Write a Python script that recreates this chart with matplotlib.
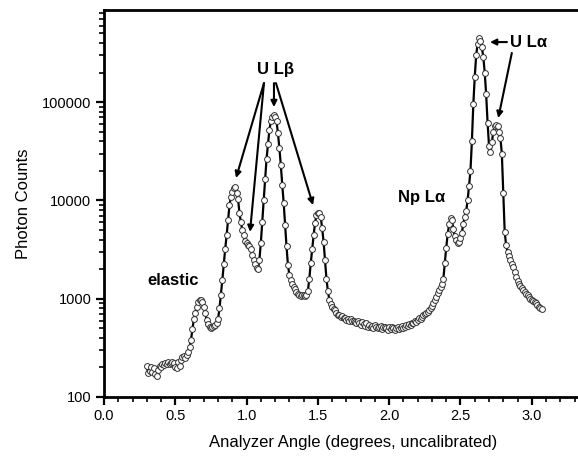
import matplotlib
matplotlib.use("Agg")
import matplotlib.pyplot as plt
from matplotlib.ticker import LogLocator, FixedLocator, MultipleLocator, NullFormatter

plt.rcParams['font.family'] = ['Liberation Sans', 'DejaVu Sans']

# Analyzer angle (degrees) and photon counts
angle = [
    0.30, 0.31, 0.32, 0.33, 0.34, 0.35, 0.36, 0.37, 0.38, 0.39,
    0.40, 0.41, 0.42, 0.43, 0.44, 0.45, 0.46, 0.47, 0.48, 0.49,
    0.50, 0.51, 0.52, 0.53, 0.54, 0.55, 0.56, 0.57, 0.58, 0.59,
    0.60, 0.61, 0.62, 0.63, 0.64, 0.65, 0.66, 0.67, 0.68, 0.69,
    0.70, 0.71, 0.72, 0.73, 0.74, 0.75, 0.76, 0.77, 0.78, 0.79,
    0.80, 0.81, 0.82, 0.83, 0.84, 0.85, 0.86, 0.87, 0.88, 0.89,
    0.90, 0.91, 0.92, 0.93, 0.94, 0.95, 0.96, 0.97, 0.98, 0.99,
    1.00, 1.01, 1.02, 1.03, 1.04, 1.05, 1.06, 1.07, 1.08, 1.09,
    1.10, 1.11, 1.12, 1.13, 1.14, 1.15, 1.16, 1.17, 1.18, 1.19,
    1.20, 1.21, 1.22, 1.23, 1.24, 1.25, 1.26, 1.27, 1.28, 1.29,
    1.30, 1.31, 1.32, 1.33, 1.34, 1.35, 1.36, 1.37, 1.38, 1.39,
    1.40, 1.41, 1.42, 1.43, 1.44, 1.45, 1.46, 1.47, 1.48, 1.49,
    1.50, 1.51, 1.52, 1.53, 1.54, 1.55, 1.56, 1.57, 1.58, 1.59,
    1.60, 1.61, 1.62, 1.63, 1.64, 1.65, 1.66, 1.67, 1.68, 1.69,
    1.70, 1.71, 1.72, 1.73, 1.74, 1.75, 1.76, 1.77, 1.78, 1.79,
    1.80, 1.81, 1.82, 1.83, 1.84, 1.85, 1.86, 1.87, 1.88, 1.89,
    1.90, 1.91, 1.92, 1.93, 1.94, 1.95, 1.96, 1.97, 1.98, 1.99,
    2.00, 2.01, 2.02, 2.03, 2.04, 2.05, 2.06, 2.07, 2.08, 2.09,
    2.10, 2.11, 2.12, 2.13, 2.14, 2.15, 2.16, 2.17, 2.18, 2.19,
    2.20, 2.21, 2.22, 2.23, 2.24, 2.25, 2.26, 2.27, 2.28, 2.29,
    2.30, 2.31, 2.32, 2.33, 2.34, 2.35, 2.36, 2.37, 2.38, 2.39,
    2.40, 2.41, 2.42, 2.43, 2.44, 2.45, 2.46, 2.47, 2.48, 2.49,
    2.50, 2.51, 2.52, 2.53, 2.54, 2.55, 2.56, 2.57, 2.58, 2.59,
    2.60, 2.61, 2.62, 2.63, 2.64, 2.65, 2.66, 2.67, 2.68, 2.69,
    2.70, 2.71, 2.72, 2.73, 2.74, 2.75, 2.76, 2.77, 2.78, 2.79,
    2.80, 2.81, 2.82, 2.83, 2.84, 2.85, 2.86, 2.87, 2.88, 2.89,
    2.90, 2.91, 2.92, 2.93, 2.94, 2.95, 2.96, 2.97, 2.98, 2.99,
    3.00, 3.01, 3.02, 3.03, 3.04, 3.05, 3.06, 3.07,
]
counts = [
    205, 175, 185, 200, 180, 195, 170, 165, 190, 205,
    200, 215, 210, 220, 218, 225, 215, 222, 228, 220,
    200, 195, 225, 205, 240, 255, 260, 250, 270, 290,
    320, 380, 490, 620, 720, 820, 920, 975, 960, 930,
    830, 720, 610, 550, 510, 500, 520, 525, 540, 570,
    620, 800, 1100, 1550, 2250, 3200, 4400, 6300, 8900, 10900,
    12200, 13300, 13600, 12000, 10300, 7500, 6000, 5000, 4400, 3900,
    3700, 3550, 3400, 3200, 2800, 2450, 2250, 2050, 2000, 2500,
    3700, 6000, 10000, 16500, 26500, 37500, 52000, 64000, 71000, 74000,
    71000, 64000, 48000, 34000, 23000, 14500, 9500, 5600, 3400, 2200,
    1750, 1550, 1420, 1330, 1250, 1180, 1120, 1080, 1060, 1080,
    1100, 1070, 1100, 1200, 1600, 2300, 3200, 4400, 5900, 7100,
    7500, 7400, 6800, 5200, 3800, 2500, 1600, 1200, 980, 880,
    820, 790, 760, 720, 690, 680, 650, 660, 630, 640,
    610, 620, 600, 620, 590, 600, 580, 560, 590, 570,
    540, 575, 550, 530, 560, 520, 540, 515, 530, 500,
    535, 520, 500, 510, 530, 495, 510, 520, 500, 485,
    510, 490, 515, 500, 480, 500, 515, 490, 505, 525,
    500, 520, 545, 530, 555, 545, 570, 565, 590, 585,
    610, 630, 625, 655, 675, 695, 720, 740, 770, 800,
    850, 900, 970, 1050, 1130, 1220, 1300, 1420, 1600, 2300,
    3300, 4500, 5700, 6600, 6300, 5100, 4300, 3950, 3700, 3750,
    4100, 4700, 5800, 6800, 7800, 10000, 14000, 20000, 40000, 95000,
    180000, 300000, 390000, 445000, 420000, 360000, 290000, 200000, 120000, 62000,
    36000, 31000, 39000, 50000, 57000, 59000, 57000, 50000, 43000, 30000,
    12000, 4800, 3500, 3000, 2700, 2450, 2250, 2100, 1850, 1650,
    1520, 1420, 1350, 1280, 1220, 1170, 1120, 1080, 1030, 1000,
    970, 940, 920, 900, 870, 830, 800, 780,
]

x_ticks = [0.0, 0.5, 1.0, 1.5, 2.0, 2.5, 3.0]
x_tick_labels = ["0.0", "0.5", "1.0", "1.5", "2.0", "2.5", "3.0"]
y_ticks = [100, 1000, 10000, 100000]
y_tick_labels = ["100", "1000", "10000", "100000"]

fig = plt.figure(figsize=(5.78, 4.59), dpi=100)
ax = fig.add_axes([0.1799, 0.1351, 0.8635, 0.8431])

ax.plot(angle, counts, '-', color='black', lw=1.6,
        marker='o', ms=4.2, mfc='white', mec='#303030', mew=0.7, zorder=3)

ax.set_yscale('log')
ax.set_xlim(0.0, 3.5)
ax.set_ylim(100, 865000)

ax.xaxis.set_major_locator(FixedLocator(x_ticks))
ax.set_xticklabels(x_tick_labels)
ax.xaxis.set_minor_locator(MultipleLocator(0.1))
ax.yaxis.set_major_locator(FixedLocator(y_ticks))
ax.set_yticklabels(y_tick_labels)
ax.yaxis.set_minor_locator(LogLocator(base=10, subs=range(2, 10)))
ax.yaxis.set_minor_formatter(NullFormatter())

ax.tick_params(which='major', direction='out', length=6, width=1.6, labelsize=10.5, pad=3)
ax.tick_params(which='minor', direction='out', length=3.5, width=1.2)
ax.tick_params(top=False, right=False)
for s in ['left', 'bottom', 'top']:
    ax.spines[s].set_linewidth(2.0)
ax.spines['right'].set_visible(False)

ax.set_xlabel('Analyzer Angle (degrees, uncalibrated)', fontsize=12, labelpad=8)
ax.set_ylabel('Photon Counts', fontsize=12, labelpad=8)

tkw = dict(fontsize=12, fontweight='bold', ha='center', va='center')
ax.text(1.206, 217000, 'U L\u03b2', **tkw)
ax.text(2.98, 408000, 'U L\u03b1', **tkw)
ax.text(2.228, 10600, 'Np L\u03b1', **tkw)
ax.text(0.485, 1514, 'elastic', **tkw)

akw = dict(arrowstyle='-|>', lw=1.5, color='black', mutation_scale=9,
           shrinkA=0, shrinkB=0)
arrows = [
    ((1.122, 156000), (0.926, 16900)),
    ((1.122, 156000), (1.024, 4780)),
    ((1.192, 156000), (1.192, 89000)),
    ((1.206, 156000), (1.466, 8970)),
    ((2.826, 408000), (2.707, 408000)),
    ((2.86, 316000), (2.765, 68900)),
]
for start, end in arrows:
    ax.annotate('', xy=end, xytext=start, arrowprops=akw)

fig.savefig('out.png', dpi=100)
